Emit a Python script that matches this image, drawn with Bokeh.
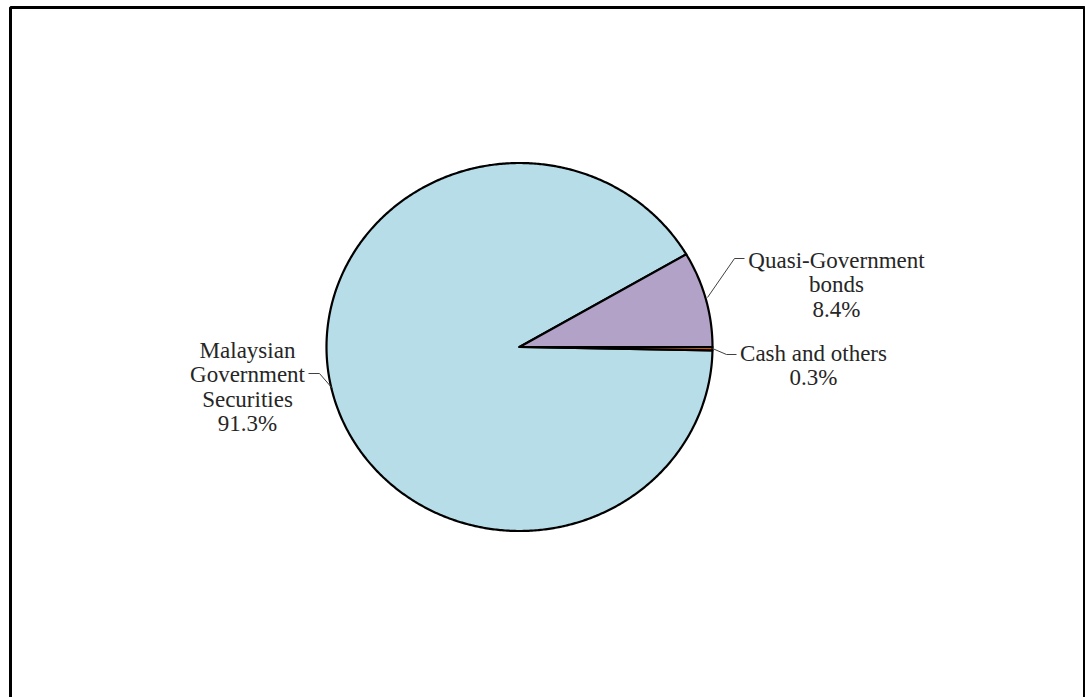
import numpy as np
from bokeh.plotting import figure
from bokeh.models import Range1d, ColumnDataSource
from bokeh.core.properties import value
from bokeh.embed import file_html
from bokeh.resources import INLINE

# ---- data ----
categories = ["Malaysian Government Securities", "Quasi-Government bonds", "Cash and others"]
shares = [91.3, 8.4, 0.3]
label_lines = [["Malaysian", "Government", "Securities"], ["Quasi-Government", "bonds"], ["Cash and others"]]
pct_labels = ["91.3%", "8.4%", "0.3%"]
colors = ["#B7DEE8", "#B3A2C7", "#C55A11"]

# ---- layout (pixel space, y downward) ----
W, H = 1085, 697
cx, cy, rx, ry = 519.0, 346.5, 193.0, 184.0
first_angle = -1.08  # degrees, slices run clockwise

p = figure(width=W, height=H, output_backend="svg", toolbar_location=None,
           x_range=Range1d(0, W), y_range=Range1d(H, 0),
           x_axis_location=None, y_axis_location=None, min_border=0)
p.grid.visible = False
p.outline_line_color = None
p.background_fill_color = "white"
p.border_fill_color = "white"

total = sum(shares)
cum = 0.0
xs, ys = [], []
for s in shares:
    a0 = np.deg2rad(first_angle - 360.0 * cum / total)
    a1 = np.deg2rad(first_angle - 360.0 * (cum + s) / total)
    n = max(int(abs(a1 - a0) / np.deg2rad(0.5)), 2)
    t = np.linspace(a0, a1, n)
    px = np.concatenate([[cx], cx + rx * np.cos(t), [cx]])
    py = np.concatenate([[cy], cy - ry * np.sin(t), [cy]])
    xs.append(px.tolist())
    ys.append(py.tolist())
    cum += s

p.patches(xs, ys, fill_color=colors, line_color="black", line_width=2.2, line_join="round")

# leader lines
leaders_x = [[308, 319, 332], [744, 734, 707], [736, 726, 712]]
leaders_y = [[373, 373, 388], [258, 258, 297], [354, 354, 348]]
p.multi_line(leaders_x, leaders_y, line_color="#404040", line_width=1)

# labels (alphabetic baselines)
label_anchor = [(247, 350), (836, 260), (813, 353)]
line_gap = 24.3
tx, ty, tt = [], [], []
for i, lines in enumerate(label_lines):
    x0, y0 = label_anchor[i]
    allines = lines + [pct_labels[i]]
    for j, ln in enumerate(allines):
        tx.append(x0)
        ty.append(y0 + j * line_gap)
        tt.append(ln)
src = ColumnDataSource(dict(x=tx, y=ty, text=tt))
p.text(x="x", y="y", text="text", source=src, text_font=value("Liberation Serif"),
       text_font_size="23px", text_align="center", text_baseline="alphabetic", text_color="#262626")

# page frame
p.line([10, 10, 1084, 1084], [710, 7, 7, 710], line_color="black", line_width=3)

open("out.html", "w").write(file_html(p, INLINE))
